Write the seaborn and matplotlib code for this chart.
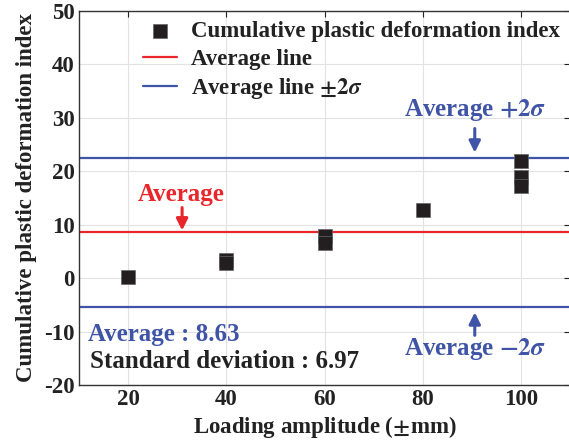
import numpy as np
import pandas as pd
import seaborn as sns
import matplotlib.pyplot as plt

# dados
amplitude = [20, 40, 40, 60, 60, 80, 100, 100, 100]
indice = [0.2, 3.4, 2.8, 7.8, 6.6, 12.7, 22.0, 19.0, 17.3]
media = 8.63
desvio = 6.97
x_ticks = [20, 40, 60, 80, 100]
y_ticks = [-20, -10, 0, 10, 20, 30, 40, 50]

vermelho = '#e8262b'
azul = '#3f54a6'
preto = '#222222'

df = pd.DataFrame({'amplitude': amplitude, 'indice': indice})

sns.set_theme(style='whitegrid')
plt.rcParams['font.family'] = ['Liberation Serif', 'DejaVu Serif']
plt.rcParams['font.weight'] = 'bold'
plt.rcParams['mathtext.fontset'] = 'stix'
plt.rcParams['axes.unicode_minus'] = False

fig = plt.figure(figsize=(5.69, 4.40), dpi=100)
ax = fig.add_axes([0.1388, 0.125, 0.8630, 0.85])

sns.scatterplot(data=df, x='amplitude', y='indice', marker='s', s=100,
                color='#231f20', edgecolor='#666666', linewidth=0.5,
                label='Cumulative plastic deformation index', ax=ax, zorder=3)
ax.axhline(media, color=vermelho, lw=1.6, label='Average line', zorder=2)
ax.axhline(media + 2 * desvio, color=azul, lw=1.6, label=r'Average line $\pm 2\sigma$', zorder=2)
ax.axhline(media - 2 * desvio, color=azul, lw=1.6, zorder=2)

ax.set_xlim(10, 110)
ax.set_ylim(-20, 50)
ax.set_xticks(x_ticks)
ax.set_yticks(y_ticks)
ax.tick_params(direction='in', length=4, width=0.8, top=True, right=True,
               labelsize=16.5, colors=preto, pad=3)
for s in ax.spines.values():
    s.set_visible(True)
    s.set_color('#333333')
    s.set_linewidth(1.0)
ax.grid(True, color='#e2e2e2', lw=0.8)

ax.set_xlabel(r'Loading amplitude ($\pm$mm)', fontsize=16.5, fontweight='bold', color=preto, labelpad=3)
ax.set_ylabel('Cumulative plastic deformation index', fontsize=16.5, fontweight='bold', color=preto, labelpad=5)

leg = ax.legend(loc='upper right', frameon=False, fontsize=16.5, handlelength=1.5,
                handletextpad=0.6, labelspacing=0.28, borderaxespad=0.0, borderpad=0.45)
for t in leg.get_texts():
    t.set_color(preto)

# setas
seta = dict(arrowstyle='-|>', lw=2.2, mutation_scale=17, shrinkA=0, shrinkB=0)
ax.annotate('', xy=(31.0, 8.93), xytext=(31.0, 13.2), arrowprops=dict(seta, color=vermelho))
ax.annotate('', xy=(90.6, 23.5), xytext=(90.6, 28.0), arrowprops=dict(seta, color=azul))
ax.annotate('', xy=(90.6, -6.4), xytext=(90.6, -10.7), arrowprops=dict(seta, color=azul))

# textos
ax.text(30.8, 15.7, 'Average', fontsize=18, color=vermelho, ha='center', va='center')
ax.text(90.6, 31.4, r'Average $+2\sigma$', fontsize=18, color=azul, ha='center', va='center')
ax.text(90.6, -13.35, r'Average $-2\sigma$', fontsize=18, color=azul, ha='center', va='center')
ax.text(11.8, -10.5, f'Average : {media:.2f}', fontsize=18, color=azul, va='center')
ax.text(12.2, -15.6, f'Standard deviation : {desvio:.2f}', fontsize=18, color=preto, va='center')

plt.savefig('out.png', dpi=100)
